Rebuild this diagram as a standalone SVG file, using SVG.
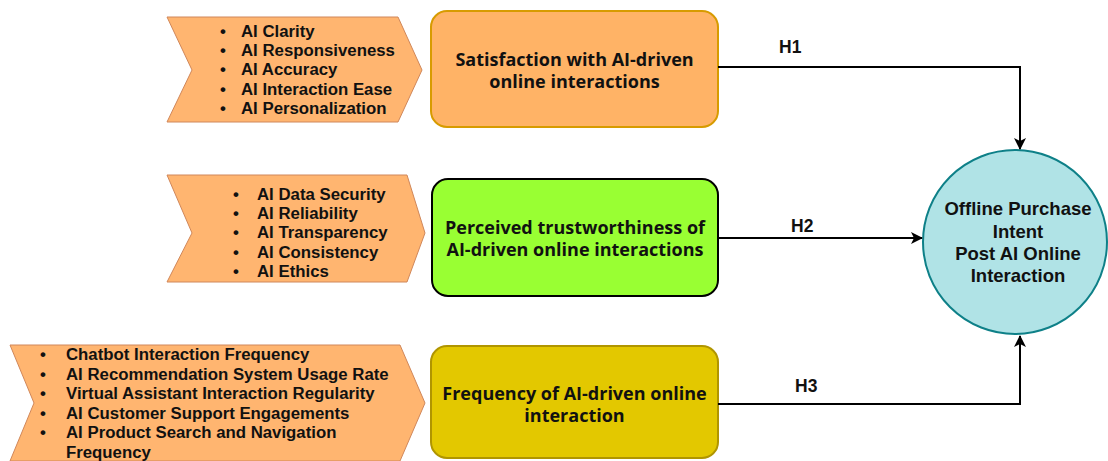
<svg xmlns="http://www.w3.org/2000/svg" width="1108" height="461" viewBox="0 0 1108 461">
  <defs>
    <marker id="arrow" viewBox="0 0 12 12" refX="11" refY="6" markerWidth="12" markerHeight="12" markerUnits="userSpaceOnUse" orient="auto">
      <path d="M0,0 L12,6 L0,12 L3,6 Z" fill="#000"/>
    </marker>
    <style>
      .chev { fill: #FFB570; stroke: #D0875A; stroke-width: 1; }
      .item { font-family: "Liberation Sans", Arial, sans-serif; font-weight: bold; font-size: 16.8px; fill: #111; }
      .box-text { font-family: "Open Sans", "Noto Sans", sans-serif; font-weight: bold; font-size: 18px; fill: #111; text-anchor: middle; }
      .goal-text { font-family: "Liberation Sans", Arial, sans-serif; font-weight: bold; font-size: 18.5px; fill: #111; text-anchor: middle; }
      .hyp { font-family: "Liberation Sans", Arial, sans-serif; font-weight: bold; font-size: 17.5px; fill: #111; }
      .edge { fill: none; stroke: #000; stroke-width: 2; marker-end: url(#arrow); }
    </style>
  </defs>
  <rect width="1108" height="461" fill="#fff"/>

  <!-- Dimension chevrons -->
  <g id="satisfaction-items">
    <polygon class="chev" points="167,17 398,17 422,70 398,122 167,122 192,70"/>
    <g class="item">
      <text x="220" y="37">•</text><text x="241" y="37">AI Clarity</text>
      <text x="220" y="56">•</text><text x="241" y="56">AI Responsiveness</text>
      <text x="220" y="75">•</text><text x="241" y="75">AI Accuracy</text>
      <text x="220" y="94.5">•</text><text x="241" y="94.5">AI Interaction Ease</text>
      <text x="220" y="113.5">•</text><text x="241" y="113.5">AI Personalization</text>
    </g>
  </g>

  <g id="trust-items">
    <polygon class="chev" points="167,175 407,175 425,233 407,282 167,282 192,233"/>
    <g class="item">
      <text x="233" y="200">•</text><text x="257" y="200">AI Data Security</text>
      <text x="233" y="219.2">•</text><text x="257" y="219.2">AI Reliability</text>
      <text x="233" y="238.4">•</text><text x="257" y="238.4">AI Transparency</text>
      <text x="233" y="257.6">•</text><text x="257" y="257.6">AI Consistency</text>
      <text x="233" y="276.8">•</text><text x="257" y="276.8">AI Ethics</text>
    </g>
  </g>

  <g id="frequency-items">
    <polygon class="chev" points="10,345 400,345 425,403 400,461 10,461 34,403"/>
    <g class="item">
      <text x="40" y="360">•</text><text x="66" y="360">Chatbot Interaction Frequency</text>
      <text x="40" y="379.6">•</text><text x="66" y="379.6">AI Recommendation System Usage Rate</text>
      <text x="40" y="399.2">•</text><text x="66" y="399.2">Virtual Assistant Interaction Regularity</text>
      <text x="40" y="418.8">•</text><text x="66" y="418.8">AI Customer Support Engagements</text>
      <text x="40" y="438.4">•</text><text x="66" y="438.4">AI Product Search and Navigation</text>
      <text x="66" y="458">Frequency</text>
    </g>
  </g>

  <!-- Constructs -->
  <g id="satisfaction">
    <rect x="431" y="11" width="287" height="116" rx="16" fill="#FFB366" stroke="#D79B00" stroke-width="2"/>
    <text class="box-text" x="574.5" y="66">Satisfaction with AI-driven</text>
    <text class="box-text" x="574.5" y="88">online interactions</text>
  </g>

  <g id="trustworthiness">
    <rect x="432" y="179" width="286" height="117" rx="16" fill="#99FF33" stroke="#000" stroke-width="2"/>
    <text class="box-text" x="575" y="234">Perceived trustworthiness of</text>
    <text class="box-text" x="575" y="256">AI-driven online interactions</text>
  </g>

  <g id="frequency">
    <rect x="431" y="346" width="287" height="112" rx="16" fill="#E3C800" stroke="#B09500" stroke-width="2"/>
    <text class="box-text" x="574.5" y="400">Frequency of AI-driven online</text>
    <text class="box-text" x="574.5" y="422">interaction</text>
  </g>

  <!-- Outcome -->
  <g id="purchase-intent">
    <circle cx="1015" cy="242" r="92" fill="#B0E3E6" stroke="#0E8088" stroke-width="2"/>
    <text class="goal-text" x="1018" y="215">Offline Purchase</text>
    <text class="goal-text" x="1018" y="237.5">Intent</text>
    <text class="goal-text" x="1018" y="260">Post AI Online</text>
    <text class="goal-text" x="1018" y="282">Interaction</text>
  </g>

  <!-- Hypothesised paths -->
  <g id="connectors">
    <path class="edge" d="M718,67 H1020 V149"/>
    <path class="edge" d="M718,238 H922"/>
    <path class="edge" d="M718,404 H1020 V336"/>
    <text class="hyp" x="779" y="53">H1</text>
    <text class="hyp" x="791" y="232">H2</text>
    <text class="hyp" x="795" y="392">H3</text>
  </g>
</svg>
